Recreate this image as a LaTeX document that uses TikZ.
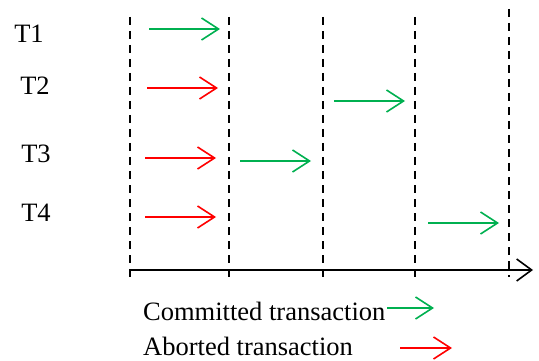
\documentclass[tikz,border=0pt]{standalone}
\usepackage{fontspec}
\setmainfont{Liberation Serif}
\usetikzlibrary{arrows.meta}
\tikzset{
    tlabel/.style = {anchor=base,inner sep=0pt,font=\fontsize{26.5}{30}\selectfont},
    legend/.style = {anchor=base west,inner sep=0pt,font=\fontsize{26.5}{30}\selectfont},
    slot/.style = {line width=1.6pt,black,dash pattern=on 8pt off 6pt},
    axis/.style = {line width=1.6pt,black,-{Straight Barb[length=15pt,width=22pt]}},
    edgeg/.style = {line width=1.6pt,draw={rgb,255:red,0;green,176;blue,80},-{Straight Barb[length=17pt,width=22pt]}}, % committed
    edger/.style = {line width=1.6pt,draw={rgb,255:red,255;green,0;blue,0},-{Straight Barb[length=17pt,width=22pt]}}, % aborted
}
\begin{document}
\begin{tikzpicture}[x=1pt,y=-1pt]
\useasboundingbox (0,0) rectangle (539,361);
%
\node[tlabel] at (29,43) (t1) {T1};
\node[tlabel] at (35,95) (t2) {T2};
\node[tlabel] at (36,163) (t3) {T3};
\node[tlabel] at (36,222) (t4) {T4};
%
% time slots
\foreach \x in {130,229,323,415}
    \draw[slot] (\x,17) -- (\x,277);
\draw[slot] (509,9) -- (509,277);
\coordinate (o) at (130,270);
\coordinate (tend) at (533,270);
\draw[axis] (o) -- (tend);
%
\coordinate (a1s) at (149,29);  \coordinate (a1e) at (220,29);
\coordinate (a2s) at (147,88);  \coordinate (a2e) at (218,88);
\coordinate (a3s) at (145,158); \coordinate (a3e) at (216,158);
\coordinate (a4s) at (145,217); \coordinate (a4e) at (216,217);
\coordinate (b3s) at (240,161); \coordinate (b3e) at (311,161);
\coordinate (b2s) at (334,101); \coordinate (b2e) at (405,101);
\coordinate (b4s) at (428,223); \coordinate (b4e) at (499,223);
%
\draw[edgeg] (a1s) -- (a1e);
\draw[edger] (a2s) -- (a2e);
\draw[edger] (a3s) -- (a3e);
\draw[edger] (a4s) -- (a4e);
\draw[edgeg] (b3s) -- (b3e);
\draw[edgeg] (b2s) -- (b2e);
\draw[edgeg] (b4s) -- (b4e);
%
% legend
\node[legend] at (143,320) (commit) {Committed transaction};
\node[legend] at (143,355) (abort) {Aborted transaction};
\coordinate (cs) at (387,308); \coordinate (ce) at (434,308);
\coordinate (as) at (400,348); \coordinate (ae) at (452,348);
\draw[edgeg] (cs) -- (ce);
\draw[edger] (as) -- (ae);
\end{tikzpicture}
\end{document}
